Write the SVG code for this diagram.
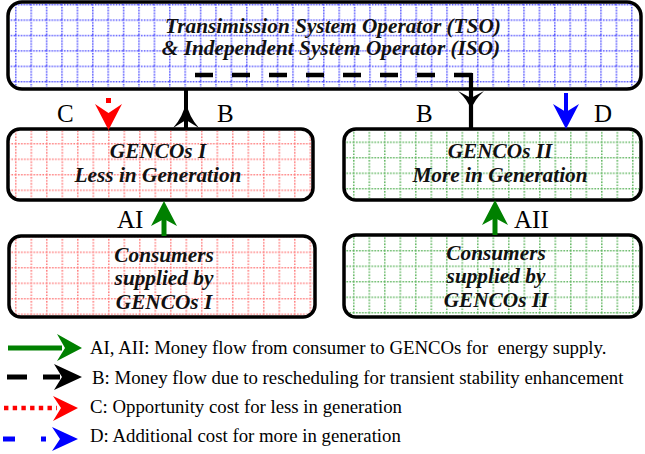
<svg xmlns="http://www.w3.org/2000/svg" width="645" height="454" viewBox="0 0 645 454">
  <defs>
    <!-- dotted grid fills for the three kinds of boxes -->
    <pattern id="gridBlue" patternUnits="userSpaceOnUse" x="-0.4" y="4" width="15.4" height="15.4">
      <path d="M0 0.75 H15.4 M0.75 0 V15.4" stroke="#3c3cff" stroke-width="1.6" stroke-dasharray="1.6 1.2" stroke-opacity="0.85" fill="none"/>
    </pattern>
    <pattern id="gridRed" patternUnits="userSpaceOnUse" x="-0.5" y="3.5" width="15.5" height="15.5">
      <path d="M0 0.75 H15.5 M0.75 0 V15.5" stroke="#ff4a4a" stroke-width="1.6" stroke-dasharray="1.6 1.4" stroke-opacity="0.7" fill="none"/>
    </pattern>
    <pattern id="gridGreen" patternUnits="userSpaceOnUse" x="12" y="2" width="15.5" height="15.5">
      <path d="M0 0.75 H15.5 M0.75 0 V15.5" stroke="#2f9f2f" stroke-width="1.6" stroke-dasharray="1.6 1.4" stroke-opacity="0.75" fill="none"/>
    </pattern>
  </defs>
  <style>
    .box { stroke: #000; stroke-width: 3.5; }
    .title { font-family: "Liberation Serif", "Times New Roman", serif; font-weight: bold; font-style: italic; font-size: 21.3px; fill: #111; text-anchor: middle; }
    .lbl { font-family: "Liberation Serif", "Times New Roman", serif; font-size: 25px; fill: #000; }
    .leg { font-family: "Liberation Serif", "Times New Roman", serif; font-size: 18.8px; fill: #000; }
  </style>

  <!-- operator box -->
  <g id="tso">
    <rect class="box" x="8" y="2" width="633" height="87" rx="14" fill="#fff"/>
    <rect x="9.75" y="3.75" width="629.5" height="83.5" rx="12" fill="url(#gridBlue)"/>
    <text class="title" x="333" y="33">Transimission System Operator (TSO)</text>
    <text class="title" x="331" y="55">&amp; Independent System Operator (ISO)</text>
  </g>

  <!-- generator companies reducing output -->
  <g id="gencos1">
    <rect class="box" x="8" y="129" width="305" height="71" rx="12" fill="#fff"/>
    <rect x="9.75" y="130.75" width="301.5" height="67.5" rx="10" fill="url(#gridRed)"/>
    <text class="title" x="158" y="158">GENCOs I</text>
    <text class="title" x="158" y="182">Less in Generation</text>
  </g>

  <!-- consumers of GENCOs I -->
  <g id="consumers1">
    <rect class="box" x="9" y="236" width="306" height="81" rx="12" fill="#fff"/>
    <rect x="10.75" y="237.75" width="302.5" height="77.5" rx="10" fill="url(#gridRed)"/>
    <text class="title" x="164" y="262">Consumers</text>
    <text class="title" x="164" y="285">supplied by</text>
    <text class="title" x="164" y="309">GENCOs I</text>
  </g>

  <!-- generator companies increasing output -->
  <g id="gencos2">
    <rect class="box" x="344" y="129" width="297" height="71" rx="12" fill="#fff"/>
    <rect x="345.75" y="130.75" width="293.5" height="67.5" rx="10" fill="url(#gridGreen)"/>
    <text class="title" x="500" y="158">GENCOs II</text>
    <text class="title" x="500" y="182">More in Generation</text>
  </g>

  <!-- consumers of GENCOs II -->
  <g id="consumers2">
    <rect class="box" x="344" y="235" width="297" height="82" rx="12" fill="#fff"/>
    <rect x="345.75" y="236.75" width="293.5" height="78.5" rx="10" fill="url(#gridGreen)"/>
    <text class="title" x="496" y="260">Consumers</text>
    <text class="title" x="496" y="283">supplied by</text>
    <text class="title" x="496" y="307">GENCOs II</text>
  </g>

  <!-- money flows between the boxes -->
  <g id="connectors">
    <!-- B: GENCOs I -> operator -->
    <line x1="186" y1="89" x2="186" y2="129" stroke="#000" stroke-width="4"/>
    <path d="M186 102 Q189 117 199 128 L186 120 L173 128 Q183 117 186 102 Z" fill="#000"/>
    <!-- B: operator -> GENCOs II (dashed run inside the operator box, solid drop) -->
    <line x1="195" y1="75" x2="472" y2="75" stroke="#000" stroke-width="4.5" stroke-dasharray="18 19"/>
    <path d="M456 75 H471 V129" fill="none" stroke="#000" stroke-width="4.2"/>
    <path d="M471 110 Q474 100 484 91 L471 98 L458 91 Q468 100 471 110 Z" fill="#000"/>
    <!-- C: opportunity cost into GENCOs I -->
    <rect x="106" y="98" width="5" height="5" fill="#ff0000"/>
    <path d="M108.5 130 L122 104 L108.5 113 L95 104 Z" fill="#ff0000"/>
    <!-- D: additional cost into GENCOs II -->
    <line x1="566" y1="93" x2="566" y2="112" stroke="#0000ff" stroke-width="4"/>
    <path d="M566 129 L579 104 L566 112 L553 104 Z" fill="#0000ff"/>
    <!-- AI: consumers -> GENCOs I -->
    <line x1="164" y1="215" x2="164" y2="236" stroke="#008000" stroke-width="5"/>
    <path d="M164 201 L177 226 L164 219 L151 226 Z" fill="#008000"/>
    <!-- AII: consumers -> GENCOs II -->
    <line x1="495" y1="215" x2="495" y2="235" stroke="#008000" stroke-width="5"/>
    <path d="M495 200 L508 225 L495 218 L482 225 Z" fill="#008000"/>
  </g>

  <!-- flow labels -->
  <g id="labels">
    <text class="lbl" x="57" y="122">C</text>
    <text class="lbl" x="217" y="122">B</text>
    <text class="lbl" x="416" y="122">B</text>
    <text class="lbl" x="594" y="122">D</text>
    <text class="lbl" x="117" y="228">AI</text>
    <text class="lbl" x="514" y="228">AII</text>
  </g>

  <!-- legend -->
  <g id="legend">
    <line x1="8" y1="348" x2="62" y2="348" stroke="#008000" stroke-width="5"/>
    <path d="M82 348 L57 334 L65 348 L57 361 Z" fill="#008000"/>
    <text class="leg" x="90" y="354">AI, AII: Money flow from consumer to GENCOs for&#160; energy supply.</text>

    <line x1="7" y1="377" x2="27" y2="377" stroke="#000" stroke-width="5"/>
    <line x1="43" y1="377" x2="60" y2="377" stroke="#000" stroke-width="5"/>
    <path d="M82 377 L54 364 L62 377 L54 390 Z" fill="#000"/>
    <text class="leg" x="92" y="384">B: Money flow due to rescheduling for transient stability enhancement</text>

    <line x1="4" y1="408" x2="57" y2="408" stroke="#ff0000" stroke-width="4.5" stroke-dasharray="4.4 4.3"/>
    <path d="M78 408 L53 396 L61 408 L53 421 Z" fill="#ff0000"/>
    <text class="leg" x="90" y="413">C: Opportunity cost for less in generation</text>

    <line x1="3" y1="439" x2="15" y2="439" stroke="#0000ff" stroke-width="5"/>
    <line x1="41" y1="439" x2="46" y2="439" stroke="#0000ff" stroke-width="5"/>
    <path d="M78 439 L52 427 L60 439 L52 451 Z" fill="#0000ff"/>
    <text class="leg" x="90" y="442">D: Additional cost for more in generation</text>
  </g>
</svg>
